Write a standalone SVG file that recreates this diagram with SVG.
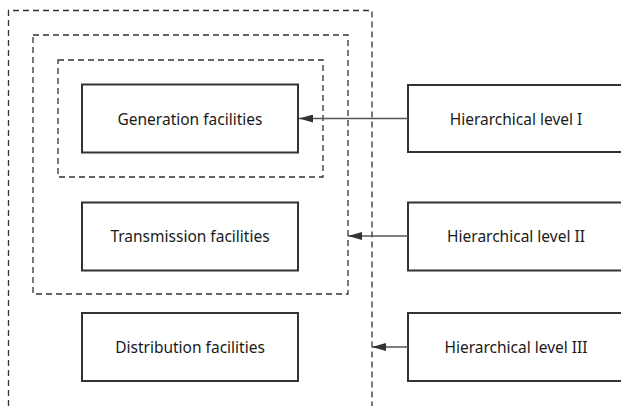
<svg xmlns="http://www.w3.org/2000/svg" width="621" height="406" viewBox="0 0 621 406">
<defs>
<style>
.frame{fill:none;stroke:#333;stroke-width:1.3;stroke-dasharray:6,4}
.box{fill:#fff;stroke:#333;stroke-width:2}
.lbl{font-family:"Noto Sans","Liberation Sans",sans-serif;font-size:15.5px;fill:#1a1a1a;text-anchor:middle;dominant-baseline:central}
.conn{stroke:#555;stroke-width:1.3;fill:none;marker-end:url(#ah)}
</style>
<marker id="ah" viewBox="0 0 14 8" refX="14" refY="4" markerWidth="14" markerHeight="8" markerUnits="userSpaceOnUse" orient="auto">
<path d="M0,0 L14,4 L0,8 Z" fill="#333"/>
</marker>
</defs>
<g id="frames">
<path class="frame" d="M8.5,406 V10.5 H372 V406"/>
<rect class="frame" x="33" y="35" width="315" height="259"/>
<rect class="frame" x="58" y="60" width="265" height="117"/>
</g>
<g id="generation"><rect class="box" x="82" y="84.5" width="216" height="68"/><text class="lbl" x="190" y="118.5">Generation facilities</text></g>
<g id="transmission"><rect class="box" x="82" y="202.5" width="216" height="68"/><text class="lbl" x="190" y="236">Transmission facilities</text></g>
<g id="distribution"><rect class="box" x="82" y="313" width="216" height="68"/><text class="lbl" x="190" y="347">Distribution facilities</text></g>
<g id="level1"><rect class="box" x="408" y="85" width="220" height="67"/><text class="lbl" x="516" y="118.5">Hierarchical level I</text></g>
<g id="level2"><rect class="box" x="408" y="202.5" width="220" height="68"/><text class="lbl" x="516" y="236">Hierarchical level II</text></g>
<g id="level3"><rect class="box" x="408" y="313" width="220" height="68"/><text class="lbl" x="516" y="347">Hierarchical level III</text></g>
<g id="connectors">
<line class="conn" x1="408" y1="118.5" x2="299" y2="118.5"/>
<line class="conn" x1="408" y1="236" x2="348" y2="236"/>
<line class="conn" x1="408" y1="347" x2="372" y2="347"/>
</g>
</svg>
